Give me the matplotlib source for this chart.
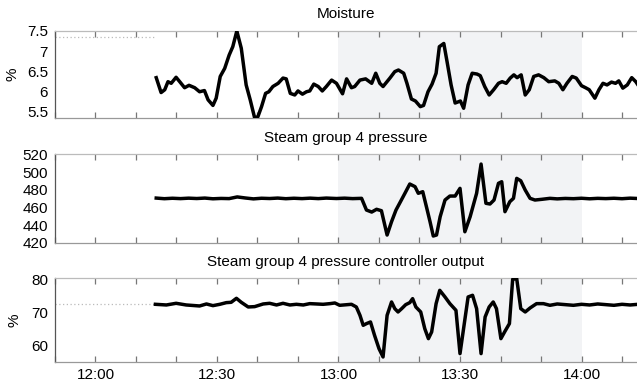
import matplotlib
matplotlib.use("Agg")
import matplotlib.pyplot as plt
import matplotlib.dates as mdates
from matplotlib.ticker import FuncFormatter
import pandas as pd

plt.rcParams["font.family"] = ["Liberation Sans", "DejaVu Sans"]

BASE = pd.Timestamp("2021-03-01 12:00")

# minutes after 12:00 / readings
moist_t = [15.0, 16.2, 17.1, 17.9, 18.7, 19.9, 20.8, 22.0, 23.1, 24.5, 25.7, 26.9,
           27.8, 29.0, 29.8, 30.8, 31.9, 33.0, 33.9, 34.9, 36.0, 37.2, 38.2, 39.3,
           40.1, 41.0, 42.0, 42.8, 43.8, 45.1, 46.3, 47.1, 48.1, 49.2, 50.0, 51.1,
           52.1, 52.9, 53.9, 55.0, 56.0, 57.0, 58.3, 59.5, 61.0, 62.0, 63.2, 64.0,
           65.3, 66.7, 68.2, 69.2, 70.2, 71.0, 72.7, 73.9, 74.8, 76.1, 76.9, 78.0,
           79.0, 80.2, 81.0, 82.1, 83.1, 84.1, 84.9, 86.0, 86.8, 87.8, 88.8, 90.1,
           90.9, 92.0, 93.0, 94.2, 95.0, 96.1, 97.2, 98.3, 99.5, 100.4, 101.4, 102.4,
           103.3, 104.1, 105.1, 106.1, 107.1, 108.2, 109.4, 110.7, 111.9, 113.4, 114.4,
           115.4, 116.4, 117.7, 118.7, 120.0, 121.0, 121.9, 123.3, 124.3, 125.3, 126.3,
           127.4, 128.4, 129.2, 130.2, 131.3, 132.4, 133.4, 134.0]
moist_v = [6.34, 5.97, 6.04, 6.24, 6.20, 6.35, 6.24, 6.09, 6.15, 6.09, 5.99, 6.02,
           5.79, 5.65, 5.83, 6.37, 6.57, 6.90, 7.11, 7.50, 7.07, 6.16, 5.79, 5.34,
           5.37, 5.62, 5.95, 5.99, 6.12, 6.20, 6.33, 6.31, 5.95, 5.91, 6.01, 5.93,
           5.99, 6.01, 6.18, 6.12, 6.01, 6.12, 6.28, 6.20, 5.94, 6.31, 6.09, 6.12,
           6.28, 6.31, 6.20, 6.45, 6.20, 6.12, 6.33, 6.49, 6.53, 6.45, 6.20, 5.81,
           5.76, 5.62, 5.65, 5.99, 6.18, 6.45, 7.11, 7.19, 6.74, 6.16, 5.71, 5.76,
           5.58, 6.16, 6.45, 6.43, 6.39, 6.12, 5.91, 6.04, 6.20, 6.24, 6.20, 6.33,
           6.41, 6.34, 6.41, 5.91, 6.04, 6.37, 6.41, 6.34, 6.24, 6.26, 6.20,
           6.04, 6.20, 6.37, 6.33, 6.14, 6.09, 6.04, 5.83, 6.04, 6.20, 6.16,
           6.23, 6.20, 6.26, 6.08, 6.16, 6.34, 6.24, 6.15]

press_t = [15, 17, 19, 21, 23, 25, 27, 29, 31, 33, 35, 37, 39, 41, 43, 45, 47, 49,
           51, 53, 55, 57, 59.5, 61.5, 63.5, 65.7, 66.9, 68.2, 69.4, 70.6, 72.0, 73.1,
           74.2, 75.3, 76.4, 77.6, 78.9, 79.7, 80.8, 81.8, 82.6, 83.4, 84.2, 85.1,
           86.3, 87.5, 88.8, 90.0, 91.2, 92.5, 94.1, 95.2, 96.4, 97.4, 98.4, 99.5,
           100.3, 101.1, 102.3, 103.2, 104.0, 105.0, 106.1, 107.3, 108.5, 110.2,
           112.2, 114, 116, 118, 120, 122, 124, 126, 128, 130, 132, 134]
press_v = [470.5, 469.8, 470.3, 469.9, 470.4, 470.0, 470.5, 469.7, 470.1, 469.9,
           471.8, 470.6, 469.6, 470.3, 470.0, 470.5, 469.8, 470.3, 469.9, 470.4,
           469.9, 470.5, 470.0, 470.4, 469.9, 470.2, 457.0, 454.7, 457.8, 456.2,
           428.7, 443.8, 457.0, 466.4, 475.9, 486.4, 483.4, 475.9, 477.7, 459.0,
           443.8, 427.6, 428.7, 449.4, 468.3, 472.8, 472.8, 481.5, 432.4, 449.4,
           475.9, 509.0, 464.6, 463.8, 468.3, 487.2, 489.0, 455.1, 466.4, 470.2,
           492.8, 490.1, 479.6, 470.2, 468.3, 469.1, 470.2, 469.6, 470.1, 469.8,
           470.3, 469.7, 470.2, 469.9, 470.3, 469.8, 470.4, 470.0]

ctrl_t = [14.8, 17.5, 19.9, 22.4, 25.7, 27.4, 29.0, 30.7, 32.3, 33.5, 34.8, 36.0,
          37.7, 39.3, 41.4, 43.0, 44.7, 46.3, 48.0, 49.6, 51.3, 52.9, 54.6, 56.2,
          57.9, 59.1, 60.3, 63.2, 64.4, 65.3, 66.1, 66.9, 67.9, 68.9, 70.0, 71.0,
          72.0, 73.1, 73.9, 74.7, 75.6, 76.6, 77.6, 78.3, 79.1, 80.3, 81.3, 82.2,
          83.0, 84.1, 85.0, 86.3, 87.5, 89.0, 90.0, 91.0, 92.0, 93.1, 94.1, 95.2,
          96.2, 97.2, 98.2, 99.0, 100.1, 101.1, 102.2, 103.0, 104.0, 105.0, 106.1,
          107.3, 108.9, 110.6, 112.2, 114, 116, 118, 120, 122, 124, 126, 128, 130,
          132, 134]
ctrl_v = [72.5, 72.3, 72.8, 72.3, 72.0, 72.6, 72.1, 72.5, 73.0, 73.1, 74.3, 73.1,
          71.7, 71.8, 72.6, 72.8, 72.3, 72.8, 72.3, 72.5, 72.3, 72.7, 72.6, 72.5,
          72.7, 72.9, 72.2, 72.5, 71.7, 69.2, 66.2, 66.7, 67.2, 63.2, 59.2, 56.7,
          69.2, 73.2, 71.2, 70.2, 71.2, 72.4, 73.0, 74.2, 71.7, 70.2, 65.2, 62.2,
          64.2, 72.7, 76.7, 74.7, 72.7, 70.7, 57.7, 66.2, 74.7, 75.2, 71.2, 57.7,
          68.7, 71.7, 73.2, 71.2, 62.2, 64.4, 66.7, 80.0, 80.2, 71.2, 70.2,
          71.4, 72.7, 72.7, 72.2, 72.6, 72.4, 72.2, 72.5, 72.3, 72.6, 72.4, 72.2,
          72.5, 72.3, 72.5]

# reference levels shown before logging starts
moist_ref = 7.34
ctrl_ref = 72.6
ref_end = 14.5

titles = ["Moisture", "Steam group 4 pressure", "Steam group 4 pressure controller output"]


def to_time(minutes):
    return BASE + pd.to_timedelta(minutes, unit="min")


fig = plt.figure(figsize=(6.37, 3.86), dpi=100)
axes = [
    fig.add_axes([0.0863, 0.6935, 0.9137, 0.2262]),
    fig.add_axes([0.0863, 0.3712, 0.9137, 0.2290]),
    fig.add_axes([0.0863, 0.0614, 0.9137, 0.2176]),
]

x0, x1 = to_time(-10), to_time(133.7)
series = [(moist_t, moist_v), (press_t, press_v), (ctrl_t, ctrl_v)]
ylims = [(5.33, 7.5), (420, 520), (55.1, 80.3)]
yticks = [[5.5, 6, 6.5, 7, 7.5], [420, 440, 460, 480, 500, 520], [60, 70, 80]]

for i, ax in enumerate(axes):
    t, v = series[i]
    ax.axvspan(to_time(60), to_time(120), color="#f2f3f5", lw=0, zorder=0)
    ax.plot(to_time(t), v, color="black", lw=2.5, solid_joinstyle="round", zorder=3)
    ax.set_xlim(x0, x1)
    ax.set_ylim(*ylims[i])
    ax.set_yticks(yticks[i])
    ax.yaxis.set_major_formatter(FuncFormatter(lambda y, _: f"{y:g}"))
    ax.set_title(titles[i], fontsize=11, pad=9)

    ax.xaxis.set_major_locator(mdates.MinuteLocator(byminute=[0, 30]))
    ax.xaxis.set_minor_locator(mdates.MinuteLocator(byminute=[10, 20, 40, 50]))
    ax.xaxis.set_major_formatter(mdates.DateFormatter("%H:%M"))
    ax.tick_params(axis="x", which="both", direction="in", top=True, bottom=True,
                   length=4, width=0.9, color="#777777", labelsize=11, pad=4)
    ax.tick_params(axis="y", length=0, labelsize=11, pad=5)
    if i < 2:
        ax.tick_params(axis="x", which="both", labelbottom=False)

    ax.spines["left"].set_color("#555555")
    ax.spines["top"].set_color("#bbbbbb")
    ax.spines["bottom"].set_color("#999999")
    ax.spines["right"].set_visible(False)
    for s in ax.spines.values():
        s.set_linewidth(0.9)

axes[0].plot([x0, to_time(ref_end)], [moist_ref, moist_ref], color="#bbbbbb",
             lw=0.9, ls=(0, (1, 2)), zorder=2)
axes[2].plot([x0, to_time(ref_end)], [ctrl_ref, ctrl_ref], color="#bbbbbb",
             lw=0.9, ls=(0, (1, 2)), zorder=2)

axes[0].set_ylabel("%", fontsize=11, labelpad=5)
axes[2].set_ylabel("%", fontsize=11, labelpad=7)

fig.savefig("out.png", dpi=100)
